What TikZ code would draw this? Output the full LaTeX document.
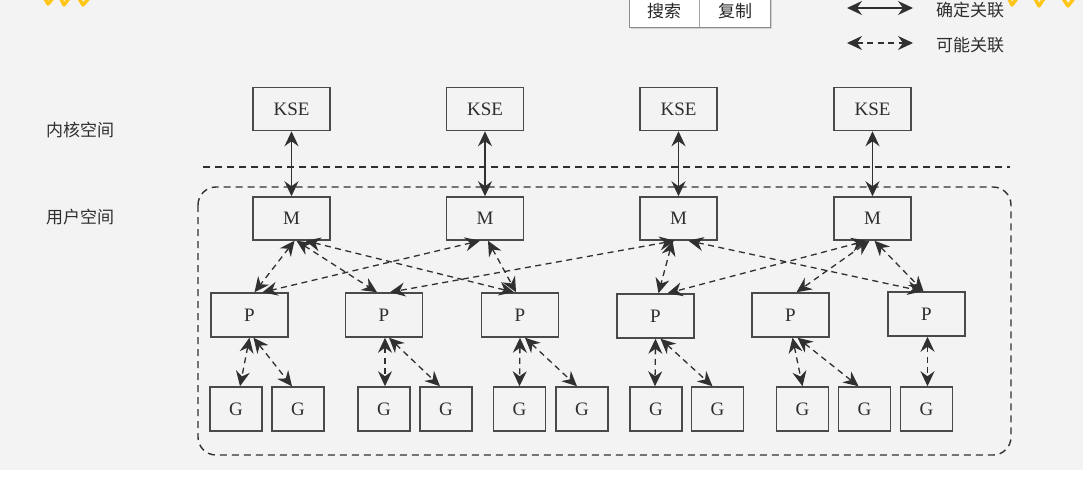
\documentclass[tikz,border=0pt]{standalone}
\usepackage{fontspec}
\setmainfont{Liberation Serif}
\newfontfamily\cjk{Noto Sans CJK SC}
\usetikzlibrary{arrows.meta}
\definecolor{bg}{HTML}{F3F3F3}
\definecolor{boxc}{HTML}{4A4A4A}
\definecolor{linec}{HTML}{303030}
\definecolor{txt}{HTML}{2E2E2E}
\definecolor{hl}{HTML}{FFC61A}
\begin{document}
\begin{tikzpicture}[x=1pt,y=-1pt,
  box/.style={draw=boxc, line width=1.5pt, minimum width=77pt, minimum height=43pt, inner sep=0pt, font=\fontsize{19}{19}\selectfont, text=txt},
  gbox/.style={box, minimum width=52pt},
  tip/.tip={Stealth[length=15pt,width=14pt,inset=5pt]},
  sure/.style={draw=linec, line width=1.3pt, tip-tip},
  maybe/.style={sure, dash pattern=on 6pt off 4.5pt},
  region/.style={draw=linec, line width=1.4pt, dash pattern=on 7pt off 5pt},
  lbl/.style={font=\cjk\fontsize{17}{17}\selectfont, text=txt, inner sep=0pt, anchor=west},
  btn/.style={font=\cjk\fontsize{17}{17}\selectfont, text=black!85, inner sep=0pt}]
\useasboundingbox (0,0) rectangle (1083,481);
\fill[bg] (0,0) rectangle (1083,470);
\fill[white] (0,470) rectangle (1083,481);
% highlighter marks
\draw[hl, line width=3.5pt, line cap=round, line join=round] (44,-3) -- (48,4) -- (54,-3) (60,-3) -- (64,5) -- (70,-3) (78,-3) -- (83,5) -- (90,-3);
\draw[hl, line width=3.5pt, line cap=round, line join=round] (1008,-3) -- (1012,5) -- (1018,-3) (1034,-3) -- (1039,6) -- (1045,-3) (1062,-3) -- (1068,6) -- (1075,-3);
% popup
\fill[black!18] (631,-2) rectangle (772,29);
\draw[black!45, fill=white, line width=0.8pt] (629,-4) rectangle (770,27);
\draw[black!35, line width=0.8pt] (699,-4) -- (699,27);
\node[btn] (search) at (664,11) {搜索};
\node[btn] (copy) at (735,11) {复制};
% legend
\coordinate (la) at (847,8); \coordinate (lb) at (913,8);
\coordinate (lc) at (847,43); \coordinate (ld) at (913,43);
\draw[sure] (la) -- (lb);
\draw[maybe] (lc) -- (ld);
\node[lbl] (leg1) at (936,10) {确定关联};
\node[lbl] (leg2) at (936,45) {可能关联};
% space labels
\node[lbl] (kern) at (46,130) {内核空间};
\node[lbl] (user) at (46,217) {用户空间};
% separators
\coordinate (sepL) at (203,167); \coordinate (sepR) at (1010,167);
\draw[region] (sepL) -- (sepR);
\draw[region, rounded corners=18pt] (198,187) rectangle (1011,455);
% KSE
\node[box] (K1) at (291.5,109) {KSE};
\node[box] (K2) at (485,109) {KSE};
\node[box] (K3) at (678.5,109) {KSE};
\node[box] (K4) at (872.5,109) {KSE};
% M
\node[box] (M1) at (291.5,218.5) {M};
\node[box] (M2) at (485,218.5) {M};
\node[box] (M3) at (678.5,218.5) {M};
\node[box] (M4) at (872.5,218.5) {M};
% P
\node[box, minimum height=44pt] (P1) at (249.5,315) {P};
\node[box, minimum height=44pt] (P2) at (384,315) {P};
\node[box, minimum height=44pt] (P3) at (520,315) {P};
\node[box, minimum height=44pt] (P4) at (655.5,316) {P};
\node[box, minimum height=44pt] (P5) at (790.5,315) {P};
\node[box, minimum height=44pt] (P6) at (926.5,314) {P};
% G
\node[gbox, minimum height=44pt] (G1) at (236,409) {G};
\node[gbox, minimum height=44pt] (G2) at (298,409) {G};
\node[gbox, minimum height=44pt] (G3) at (384,409) {G};
\node[gbox, minimum height=44pt] (G4) at (446,409) {G};
\node[gbox, minimum height=44pt] (G5) at (519.5,409) {G};
\node[gbox, minimum height=44pt] (G6) at (582,409) {G};
\node[gbox, minimum height=44pt] (G7) at (656,409) {G};
\node[gbox, minimum height=44pt] (G8) at (717.5,409) {G};
\node[gbox, minimum height=44pt] (G9) at (802.5,409) {G};
\node[gbox, minimum height=44pt] (G10) at (864.5,409) {G};
\node[gbox, minimum height=44pt] (G11) at (926.5,409) {G};
% KSE - M
\foreach \i in {1,...,4} \draw[sure] (K\i.south) -- (M\i.north);
% M - P
\draw[maybe] ([xshift=3]M1.south) -- ([xshift=5]P1.north);
\draw[maybe] ([xshift=5]M1.south) -- ([xshift=-7]P2.north);
\draw[maybe] ([xshift=14]M1.south) -- ([xshift=-6]P3.north);
\draw[maybe] ([xshift=-5]M2.south) -- ([xshift=13]P1.north);
\draw[maybe] ([xshift=3]M2.south) -- ([xshift=-4]P3.north);
\draw[maybe] ([xshift=-4]M3.south) -- ([xshift=6]P2.north);
\draw[maybe] ([xshift=-6]M3.south) -- ([xshift=3]P4.north);
\draw[maybe] ([xshift=10]M3.south) -- ([xshift=-4]P6.north);
\draw[maybe] ([xshift=-6]M4.south) -- ([xshift=12]P4.north);
\draw[maybe] ([xshift=-3]M4.south) -- ([xshift=6]P5.north);
\draw[maybe] ([xshift=2]M4.south) -- ([xshift=-3]P6.north);
% P - G
\draw[maybe] ([xshift=0]P1.south) -- ([xshift=4]G1.north);
\draw[maybe] ([xshift=4]P1.south) -- ([xshift=-6]G2.north);
\draw[maybe] ([xshift=1]P2.south) -- ([xshift=1]G3.north);
\draw[maybe] ([xshift=5]P2.south) -- ([xshift=-6]G4.north);
\draw[maybe] ([xshift=0]P3.south) -- ([xshift=0]G5.north);
\draw[maybe] ([xshift=5]P3.south) -- ([xshift=-5]G6.north);
\draw[maybe] ([xshift=0]P4.south) -- ([xshift=-1]G7.north);
\draw[maybe] ([xshift=5]P4.south) -- ([xshift=-5]G8.north);
\draw[maybe] ([xshift=2]P5.south) -- ([xshift=0]G9.north);
\draw[maybe] ([xshift=7]P5.south) -- ([xshift=-6]G10.north);
\draw[maybe] ([xshift=1]P6.south) -- ([xshift=1]G11.north);
\end{tikzpicture}
\end{document}
